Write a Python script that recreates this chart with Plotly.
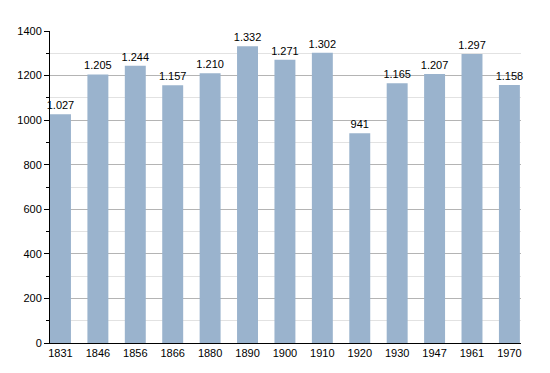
import plotly.graph_objects as go

years = ["1831", "1846", "1856", "1866", "1880", "1890", "1900", "1910", "1920", "1930", "1947", "1961", "1970"]
population = [1027, 1205, 1244, 1157, 1210, 1332, 1271, 1302, 941, 1165, 1207, 1297, 1158]
labels = [f"{v:,}".replace(",", ".") for v in population]

fig = go.Figure()
fig.add_trace(go.Bar(
    x=years, y=population, text=labels, textposition="outside",
    constraintext="none", cliponaxis=False,
    marker=dict(color="#9ab3cd", line=dict(width=0)),
    textfont=dict(family="Liberation Sans, Arial, sans-serif", size=11, color="#000"),
    width=0.56,
))
fig.update_layout(
    width=550, height=373,
    margin=dict(l=50, r=29, t=31, b=30),
    paper_bgcolor="white", plot_bgcolor="white",
    showlegend=False,
    font=dict(family="Liberation Sans, Arial, sans-serif", size=11, color="#000"),
)
fig.update_xaxes(
    type="category", range=[-0.28, 12.31],
    showline=True, linecolor="black", linewidth=1,
    ticks="", showgrid=False,
    tickfont=dict(size=11),
)
fig.update_yaxes(
    range=[0, 1400], dtick=200, tick0=0,
    showline=True, linecolor="black", linewidth=1,
    ticks="outside", ticklen=5, tickcolor="black",
    showgrid=True, gridcolor="#b4b4b4", gridwidth=1,
    zeroline=False,
    minor=dict(dtick=100, ticks="outside", ticklen=3, tickcolor="black",
               showgrid=True, gridcolor="#e2e2e2", gridwidth=1),
    tickfont=dict(size=11),
)
fig.write_html("out.html", config={"displayModeBar": False},
               post_script="document.body.style.margin='0';")
